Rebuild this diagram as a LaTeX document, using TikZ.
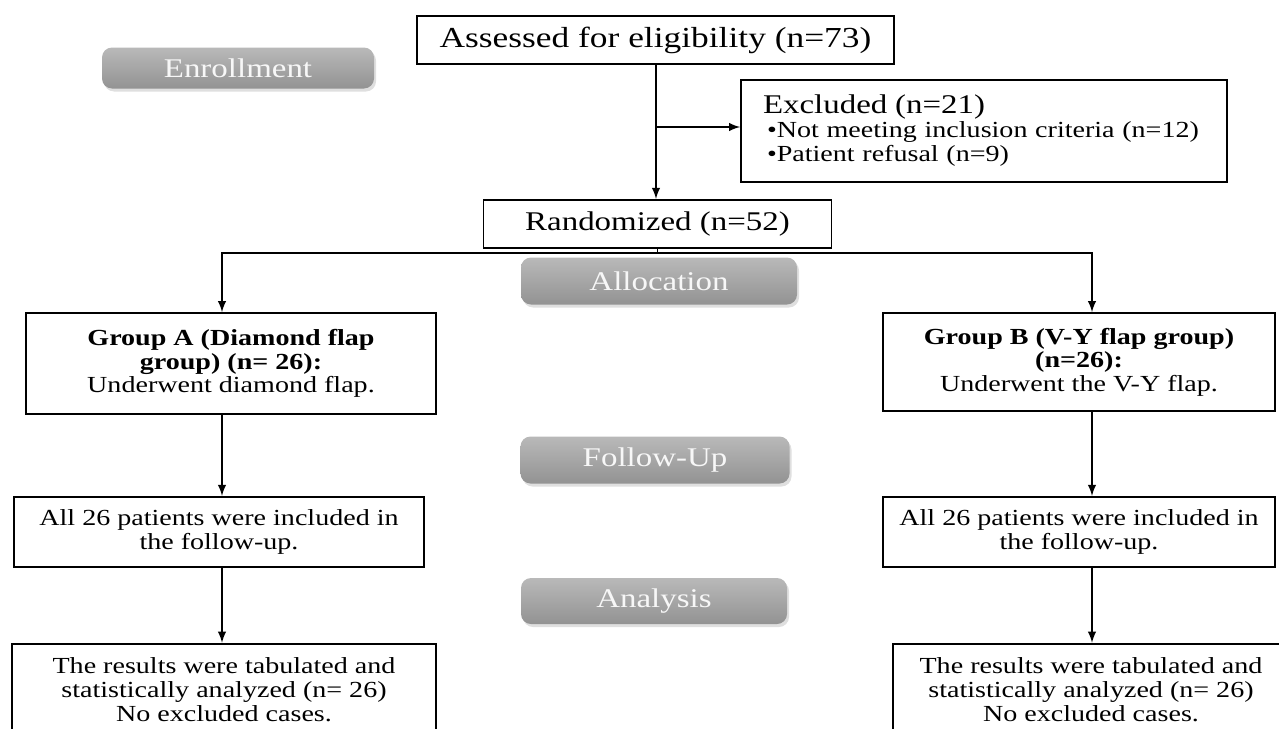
\documentclass[tikz,border=0pt]{standalone}
\usepackage{fontspec}
\setmainfont{Liberation Serif}[FakeStretch=1.22]
\usetikzlibrary{positioning,calc,shadows}

\begin{document}
\begin{tikzpicture}[x=0.5pt,y=-0.5pt,
				box/.style={draw,rectangle,line width=0.9pt,align=center,inner sep=2pt,font=\fontsize{11.5}{11.8}\selectfont},
				tag/.style={rectangle,rounded corners=5pt,top color=gray!55,bottom color=gray!85,draw=none,
					drop shadow={opacity=0.25,shadow xshift=1pt,shadow yshift=-1.5pt},
					text=gray!6,font=\fontsize{13.5}{16}\selectfont},
				arr/.style={-latex,line width=0.9pt}]
				\clip (0,0) rectangle (1279,728);
				% phase tags
				\node (enroll) [tag,minimum width=136pt,minimum height=20.5pt] at (238,68)  {Enrollment};
				\node (alloc)  [tag,minimum width=138pt,minimum height=23.5pt] at (659,281) {Allocation};
				\node (follow) [tag,minimum width=134.5pt,minimum height=23.5pt] at (655,460) {Follow-Up};
				\node (analys) [tag,minimum width=133pt,minimum height=23pt] at (654,601) {Analysis};
				% main boxes
				\node (assess) [box,minimum width=238.5pt,minimum height=24pt,font=\fontsize{14.5}{16}\selectfont] at (655.5,40) {Assessed for eligibility (n=73)};
				\node (excl)   [box,minimum width=243pt,minimum height=51pt,align=left,text width=221pt,inner xsep=11pt,font=\fontsize{11.5}{12}\selectfont] at (984,131)
					{{\fontsize{13.5}{12}\selectfont Excluded (n=21)}\\
					\hspace*{2pt}•Not meeting inclusion criteria (n=12)\\
					\hspace*{2pt}•Patient refusal (n=9)};
				\node (rand)   [box,minimum width=174pt,minimum height=24pt,font=\fontsize{13.5}{16}\selectfont,below=67pt of assess,xshift=1pt] {Randomized (n=52)};
				\node (grpA)   [box,minimum width=205pt,minimum height=50.5pt] at (231,363.5)
					{\textbf{Group A (Diamond flap}\\ \textbf{group) (n= 26):}\\ Underwent diamond flap.};
				\node (grpB)   [box,minimum width=196pt,minimum height=49pt] at (1079,362)
					{\textbf{Group B (V-Y flap group)}\\ \textbf{(n=26):}\\ Underwent the V-Y flap.};
				\node (folA)   [box,minimum width=205pt,minimum height=35pt,below=40.5pt of grpA,xshift=-6pt]
					{All 26 patients were included in\\ the follow-up.};
				\node (folB)   [box,minimum width=196pt,minimum height=35pt,below=42pt of grpB]
					{All 26 patients were included in\\ the follow-up.};
				\node (resA)   [box,minimum width=212pt,minimum height=46pt,below=37.5pt of folA,xshift=2.5pt]
					{The results were tabulated and\\ statistically analyzed (n= 26)\\ No excluded cases.};
				\node (resB)   [box,minimum width=198pt,minimum height=46pt,below=37.5pt of folB,xshift=6pt]
					{The results were tabulated and\\ statistically analyzed (n= 26)\\ No excluded cases.};
				% connectors
				\coordinate (trunk) at (656,127);
				\coordinate (colA)  at (222,0);
				\coordinate (colB)  at (1092,0);
				\draw[arr] (assess.south -| trunk) -- (rand.north -| trunk);
				\draw[arr] (trunk) -- (trunk -| excl.west);
				\draw[arr] (rand.south) -- ++(0,-2pt) -| (grpA.north -| colA);
				\draw[arr] (rand.south) -- ++(0,-2pt) -| (grpB.north -| colB);
				\draw[arr] (grpA.south -| colA) -- (folA.north -| colA);
				\draw[arr] (folA.south -| colA) -- (resA.north -| colA);
				\draw[arr] (grpB.south -| colB) -- (folB.north -| colB);
				\draw[arr] (folB.south -| colB) -- (resB.north -| colB);
			\end{tikzpicture}
\end{document}
